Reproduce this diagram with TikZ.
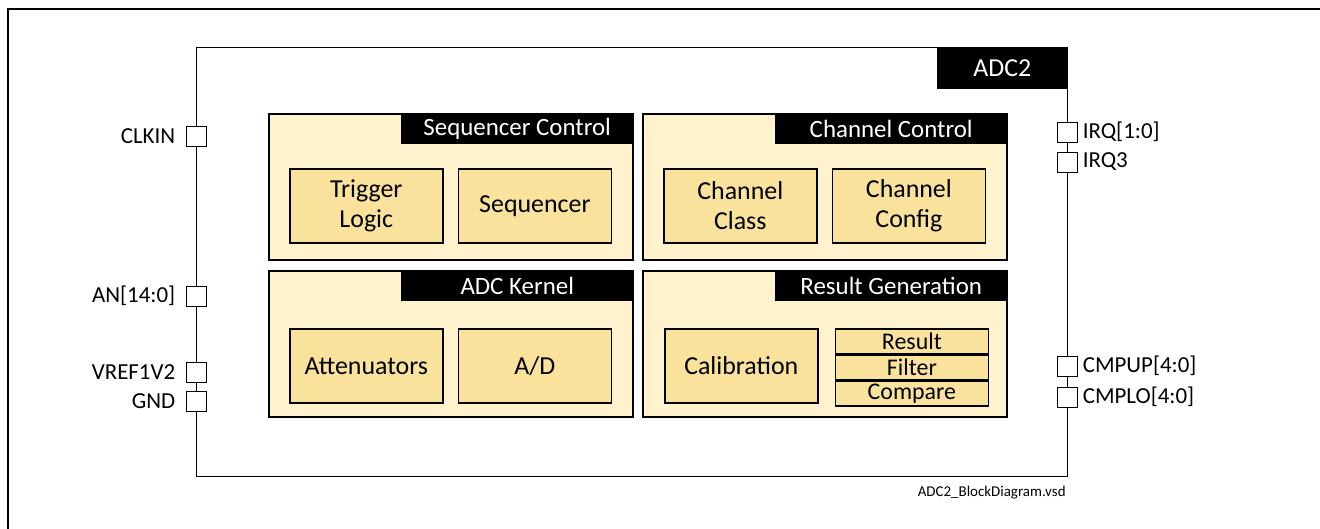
\documentclass[tikz,border=0pt]{standalone}
\usepackage{fontspec}
\setmainfont{Carlito}
\usepackage{xcolor}
\usetikzlibrary{positioning}

\definecolor{grpfill}{HTML}{FFF2CC}
\definecolor{blkfill}{HTML}{F9E29B}

\begin{document}
\begin{tikzpicture}[
  x=0.5bp, y=-0.5bp,
  font=\fontsize{11.5}{13}\selectfont,
  grp/.style={draw, thick, fill=grpfill, anchor=north west, inner sep=0pt,
              minimum width=182bp, minimum height=73bp},
  hdr/.style={fill=black, text=white, anchor=north east, inner sep=0pt,
              minimum width=116bp, minimum height=15.5bp,
              font=\fontsize{12.5}{14}\selectfont},
  blk/.style={draw, thick, fill=blkfill, align=center, inner sep=0pt,
              anchor=north west, minimum width=76.5bp, minimum height=37bp,
              font=\fontsize{13}{15}\selectfont},
  slice/.style={draw, thick, fill=blkfill, inner sep=0pt,
              minimum width=76.5bp, minimum height=12.33bp,
              font=\fontsize{12}{13}\selectfont},
  pin/.style={draw, fill=white, minimum size=10bp, inner sep=0pt},
  pinlbl/.style={inner sep=1pt},
]
\useasboundingbox (0,0) rectangle (1320,529);
\fill[white] (0,0) rectangle (1320,529);
% ---- sheet frame (cut by the page) ------------------------------------
\draw[line width=1pt] (1320,9) -- (8,9) -- (8,529);
% ---- ADC2 module ------------------------------------------------------
\node[draw, semithick, anchor=north west, inner sep=0pt,
      minimum width=435.5bp, minimum height=214.5bp] (adc) at (196,47) {};
\node[hdr, minimum width=65.5bp, minimum height=21bp,
      font=\fontsize{13}{15}\selectfont] (adctag) at (adc.north east) {ADC2};
% ---- sub-units --------------------------------------------------------
\node[grp] (seqctl) at (268,113) {};
\node[hdr] at (seqctl.north east) {Sequencer Control};
\node[grp] (chnctl) at (642,113) {};
\node[hdr] at (chnctl.north east) {Channel Control};
\node[grp] (kernel) at (268,270) {};
\node[hdr] at (kernel.north east) {ADC Kernel};
\node[grp] (resgen) at (642,270) {};
\node[hdr] at (resgen.north east) {Result Generation};
% ---- blocks -----------------------------------------------------------
\node[blk, below right=27.5bp and 10.5bp of seqctl.north west] (trig)
  {Trigger\\Logic};
\node[blk, right=7bp of trig] (seq) {Sequencer};
\node[blk, below right=27.5bp and 10.5bp of chnctl.north west] (class)
  {Channel\\Class};
\node[blk, right=7bp of class] (config) {Channel\\Config};
\node[blk, below right=29bp and 10.5bp of kernel.north west] (atten)
  {Attenuators};
\node[blk, right=7bp of atten] (ad) {A/D};
\node[blk, below right=29bp and 11bp of resgen.north west] (calib)
  {Calibration};
\node[slice, right=8bp of calib.north east, anchor=north west] (result)
  {Result};
\node[slice, below=0pt of result] (filter) {Filter};
\node[slice, below=0pt of filter] (compare) {Compare};
% ---- pins -------------------------------------------------------------
\node[pin] (clkin) at (196,136) {};
\node[pin] (an)    at (196,296) {};
\node[pin] (vref)  at (196,372) {};
\node[pin] (gnd)   at (196,401) {};
\node[pin] (irqa)  at (1067,132) {};
\node[pin] (irqb)  at (1067,162) {};
\node[pin] (cmpup) at (1067,366) {};
\node[pin] (cmplo) at (1067,397) {};
\node[pinlbl, left=4bp of clkin] {CLKIN};
\node[pinlbl, left=4bp of an]    {AN[14:0]};
\node[pinlbl, left=4bp of vref]  {VREF1V2};
\node[pinlbl, left=4bp of gnd]   {GND};
\node[pinlbl, right=1.5bp of irqa]  {IRQ[1:0]};
\node[pinlbl, right=1.5bp of irqb]  {IRQ3};
\node[pinlbl, right=1.5bp of cmpup] {CMPUP[4:0]};
\node[pinlbl, right=1.5bp of cmplo] {CMPLO[4:0]};
% ---- file name --------------------------------------------------------
\node[anchor=east, inner sep=0pt, font=\fontsize{7.5}{9}\selectfont]
  (fname) at (1066,493) {ADC2\_BlockDiagram.vsd};
\end{tikzpicture}
\end{document}
